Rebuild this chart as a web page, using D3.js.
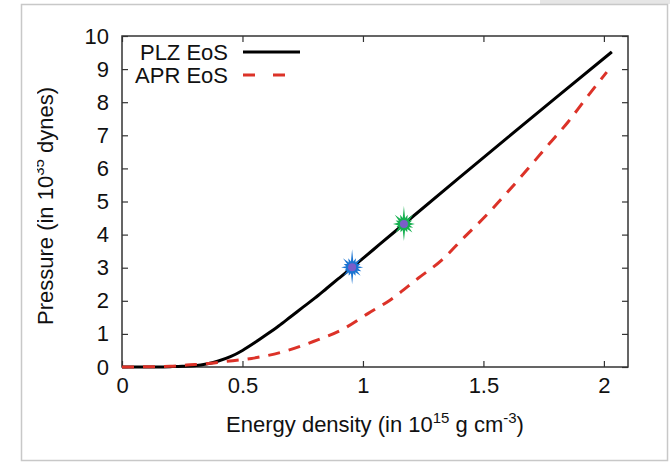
<!DOCTYPE html>
<html>
<head>
<meta charset="utf-8">
<script src="https://cdn.jsdelivr.net/npm/d3@7"></script>
<style>
  body { margin: 0; background: #fff; }
  svg { display: block; font-family: 'Liberation Sans', Arial, sans-serif; }
</style>
</head>
<body>
<div class="chart"></div>
<script>
// PLZ EoS (solid black)
const plzX = [0, 0.1, 0.2, 0.25, 0.3, 0.35, 0.4, 0.45, 0.5, 0.55, 0.6, 0.65, 0.7, 0.75, 0.8, 0.85, 0.9, 0.955, 1.0, 1.07, 1.17, 1.4, 1.6, 1.8, 2.033]
const plzY = [0, 0.0, 0.01, 0.02, 0.04, 0.09, 0.18, 0.31, 0.5, 0.73, 0.98, 1.24, 1.52, 1.8, 2.08, 2.38, 2.68, 3.01, 3.28, 3.71, 4.32, 5.72, 6.93, 8.13, 9.52]
// APR EoS (dashed red)
const aprX = [0, 0.1, 0.2, 0.268, 0.35, 0.42, 0.538, 0.669, 0.794, 0.911, 1.022, 1.112, 1.229, 1.327, 1.423, 1.513, 1.596, 1.68, 1.769, 1.852, 1.921, 2.012]
const aprY = [0, 0.005, 0.02, 0.06, 0.1, 0.16, 0.26, 0.46, 0.77, 1.12, 1.62, 2.02, 2.68, 3.23, 3.94, 4.59, 5.25, 5.95, 6.71, 7.41, 8.07, 8.91]
// highlighted points on the PLZ curve
const markerX = [0.955, 1.17]
const markerY = [3.01, 4.32]
const markerColors = ['#1a74d2', '#16b050']

const xTicks = [0, 0.5, 1, 1.5, 2]
const yTicks = [0, 1, 2, 3, 4, 5, 6, 7, 8, 9, 10]
const seriesNames = ['PLZ EoS', 'APR EoS']

const width = 670
const height = 463
const margin = { top: 36, right: 42, bottom: 96, left: 122 }
const innerW = width - margin.left - margin.right
const innerH = height - margin.top - margin.bottom

const svg = d3.select('.chart')
  .append('svg')
  .attr('width', width)
  .attr('height', height)

// page frame
svg.append('rect').attr('x', 540).attr('y', 0).attr('width', 130).attr('height', 4).attr('fill', '#e6e6e6')
svg.append('rect')
  .attr('x', 21.5).attr('y', 4.5).attr('width', 646).attr('height', 456)
  .attr('fill', '#fff').attr('stroke', '#c8c8c8').attr('stroke-width', 1.5)

const x = d3.scaleLinear().domain([0, 2.1]).range([0, innerW])
const y = d3.scaleLinear().domain([0, 10]).range([innerH, 0])

const g = svg.append('g').attr('transform', `translate(${margin.left},${margin.top})`)

const axisColor = '#333'
const fontSize = 22

// ticks pointing inward, mirrored on all sides
g.append('g').attr('transform', `translate(0,${innerH})`)
  .call(d3.axisBottom(x).tickValues(xTicks).tickSize(-6).tickPadding(10).tickFormat(d3.format('')))
g.append('g')
  .call(d3.axisTop(x).tickValues(xTicks).tickSize(-6).tickFormat(''))
g.append('g')
  .call(d3.axisLeft(y).tickValues(yTicks).tickSize(-6).tickPadding(13))
g.append('g').attr('transform', `translate(${innerW},0)`)
  .call(d3.axisRight(y).tickValues(yTicks).tickSize(-6).tickFormat(''))

g.selectAll('.domain').remove()
g.selectAll('.tick line').attr('stroke', axisColor).attr('stroke-width', 1.2)
g.selectAll('.tick text').attr('font-size', fontSize).attr('fill', '#111')
  .attr('font-family', "'Liberation Sans', Arial, sans-serif")

g.append('rect')
  .attr('width', innerW).attr('height', innerH)
  .attr('fill', 'none').attr('stroke', axisColor).attr('stroke-width', 1.5)

const line = d3.line()
  .x((d) => x(d[0]))
  .y((d) => y(d[1]))
  .curve(d3.curveMonotoneX)

g.append('path')
  .datum(plzX.map((v, i) => [v, plzY[i]]))
  .attr('d', line)
  .attr('fill', 'none').attr('stroke', '#000').attr('stroke-width', 3)

g.append('path')
  .datum(aprX.map((v, i) => [v, aprY[i]]))
  .attr('d', line)
  .attr('fill', 'none').attr('stroke', '#dc3228').attr('stroke-width', 3)
  .attr('stroke-dasharray', '12,9')

// starburst markers (angle 0 points up)
const spikes = [18, 10, 13, 9, 11, 10, 12, 9, 17, 9, 12, 8, 11, 9, 13, 10]
const star = d3.lineRadial().curve(d3.curveLinearClosed)
const starPts = []
spikes.forEach((r, i) => {
  const a = (i / spikes.length) * 2 * Math.PI
  starPts.push([a, r])
  starPts.push([a + Math.PI / spikes.length, 6])
})

markerX.forEach((mx, i) => {
  const mg = g.append('g').attr('transform', `translate(${x(mx)},${y(markerY[i])})`)
  mg.append('path').attr('d', star(starPts)).attr('fill', markerColors[i])
  mg.append('circle').attr('r', 4).attr('fill', '#7b5dc9')
})

// legend
const legend = g.append('g')
const legendY = [16, 39]
seriesNames.forEach((name, i) => {
  legend.append('text')
    .attr('x', 106).attr('y', legendY[i]).attr('dy', '0.35em')
    .attr('text-anchor', 'end').attr('font-size', fontSize).attr('fill', '#111')
    .text(name)
  legend.append('line')
    .attr('x1', 121).attr('x2', i === 0 ? 178 : 165)
    .attr('y1', legendY[i]).attr('y2', legendY[i])
    .attr('stroke', i === 0 ? '#000' : '#dc3228').attr('stroke-width', 3)
    .attr('stroke-dasharray', i === 0 ? null : '12,18')
})

// axis titles
const xTitle = svg.append('text')
  .attr('x', margin.left + innerW / 2).attr('y', 432)
  .attr('text-anchor', 'middle').attr('font-size', fontSize).attr('fill', '#111')
xTitle.append('tspan').text('Energy density (in 10')
xTitle.append('tspan').attr('dy', -9).attr('font-size', 15).text('15')
xTitle.append('tspan').attr('dy', 9).text(' g cm')
xTitle.append('tspan').attr('dy', -9).attr('font-size', 15).text('-3')
xTitle.append('tspan').attr('dy', 9).text(')')

svg.append('clipPath').attr('id', 'ylabclip')
  .append('rect').attr('x', 37).attr('y', 0).attr('width', 60).attr('height', height)

const yTitle = svg.append('g').attr('clip-path', 'url(#ylabclip)')
  .append('text')
  .attr('transform', 'translate(53,206) rotate(-90)')
  .attr('text-anchor', 'middle').attr('font-size', fontSize).attr('fill', '#111')
yTitle.append('tspan').text('Pressure (in 10')
yTitle.append('tspan').attr('dy', -9).attr('font-size', 15).text('35')
yTitle.append('tspan').attr('dy', 9).text(' dynes)')
</script>
</body>
</html>
